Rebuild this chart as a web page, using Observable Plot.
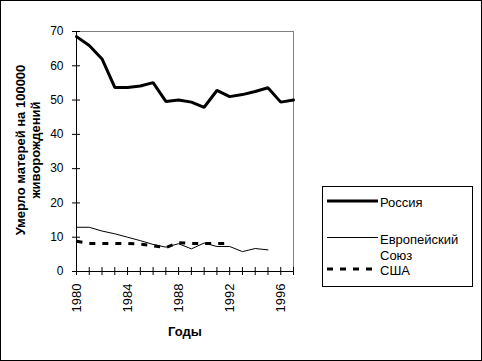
<!DOCTYPE html>
<html><head><meta charset="utf-8">
<script src="https://cdn.jsdelivr.net/npm/d3@7"></script>
<script src="https://cdn.jsdelivr.net/npm/@observablehq/plot@0.6"></script>
<style>
body{margin:0;background:#fff}
#wrap{position:relative;width:482px;height:361px;overflow:hidden;font-family:"Liberation Sans",Arial,sans-serif;background:#fff}
#wrap svg{position:absolute;left:0;top:0}
#frame{position:absolute;left:0;top:0;width:482px;height:361px;box-sizing:border-box;border:1px solid #000;pointer-events:none}
</style></head><body><div id="wrap"></div>
<script>
// Data
const years = d3.range(1980, 1998);
const russia = [68.5, 65.9, 62.0, 53.7, 53.7, 54.1, 55.1, 49.6, 50.0, 49.4, 47.9, 52.8, 51.0, 51.6, 52.5, 53.6, 49.4, 50.0];
const euYears = d3.range(1980, 1996);
const eu = [12.9, 12.9, 11.8, 11.0, 10.0, 9.0, 7.9, 7.1, 8.1, 6.6, 8.3, 7.3, 7.3, 5.8, 6.7, 6.3];
const usaYears = d3.range(1980, 1993);
const usa = [8.8, 8.2, 8.2, 8.2, 8.2, 8.0, 7.5, 7.0, 8.4, 8.2, 8.2, 8.2, 8.2];
const yTicks = [0, 10, 20, 30, 40, 50, 60, 70];
const xTickLabels = [1980, 1984, 1988, 1992, 1996];
const seriesNames = ["Россия", "Европейский Союз", "США"];
const xTitle = "Годы";
const yTitle = ["Умерло матерей на 100000", "живорождений"];

const rus = years.map((year, i) => ({year, v: russia[i]}));
const euD = euYears.map((year, i) => ({year, v: eu[i]}));
const usD = usaYears.map((year, i) => ({year, v: usa[i]}));

const font = '"Liberation Sans", Arial, sans-serif';

const chart = Plot.plot({
  width: 482, height: 361,
  marginLeft: 76, marginRight: 189, marginTop: 31, marginBottom: 90,
  style: {fontFamily: font, background: "transparent", overflow: "visible"},
  x: {domain: [1980, 1997], axis: null},
  y: {domain: [0, 70], axis: null},
  marks: [
    Plot.ruleY([70], {stroke: "#808080", strokeWidth: 1}),
    Plot.ruleX([1997], {stroke: "#808080", strokeWidth: 1}),
    Plot.line(euD, {x: "year", y: "v", stroke: "#000", strokeWidth: 1}),
    Plot.line(usD, {x: "year", y: "v", stroke: "#000", strokeWidth: 3, strokeDasharray: "6,7", strokeLinecap: "butt"}),
    Plot.line(rus, {x: "year", y: "v", stroke: "#000", strokeWidth: 3, strokeLinejoin: "miter"}),
    Plot.ruleX([1980], {y1: 0, y2: 70, stroke: "#000"}),
    Plot.ruleY([0], {x1: 1980, x2: 1997, stroke: "#000"}),
    Plot.ruleY(yTicks, {y: d => d, x1: 1980, x2: 1980, insetLeft: -4, insetRight: -4, stroke: "#000"}),
    Plot.ruleX(years, {x: d => d, y1: 0, y2: 0, insetTop: -4, insetBottom: -4, stroke: "#000"}),
    Plot.text(yTicks, {x: 1980, y: d => d, text: d => String(d), dx: -13, textAnchor: "end", fontSize: 12, fill: "#000"}),
    Plot.text(xTickLabels, {x: d => d, y: 0, text: d => String(d), rotate: -90, textAnchor: "end", dy: 12, fontSize: 13, fill: "#000"})
  ]
});

const wrap = document.getElementById("wrap");
wrap.appendChild(chart);

// overlay: titles and legend
const ov = d3.create("svg").attr("width", 482).attr("height", 361)
  .style("font-family", font);
ov.append("text").attr("x", 185).attr("y", 336).attr("text-anchor", "middle")
  .attr("font-weight", "bold").attr("font-size", 13).text(xTitle);
const yt = ov.append("text").attr("transform", "translate(25,150) rotate(-90)")
  .attr("text-anchor", "middle").attr("font-weight", "bold").attr("font-size", 13);
yt.append("tspan").attr("x", 0).attr("y", 0).text(yTitle[0]);
yt.append("tspan").attr("x", 0).attr("y", 15).text(yTitle[1]);

const lg = ov.append("g").attr("transform", "translate(322,186)");
lg.append("rect").attr("x", 0.5).attr("y", 0.5).attr("width", 150).attr("height", 100)
  .attr("fill", "#fff").attr("stroke", "#000");
lg.append("line").attr("x1", 5).attr("x2", 56).attr("y1", 15).attr("y2", 15).attr("stroke", "#000").attr("stroke-width", 3);
lg.append("text").attr("x", 58).attr("y", 21).attr("font-size", 13).text(seriesNames[0]);
lg.append("line").attr("x1", 5).attr("x2", 56).attr("y1", 51.5).attr("y2", 51.5).attr("stroke", "#000").attr("stroke-width", 1);
const eut = lg.append("text").attr("font-size", 13);
eut.append("tspan").attr("x", 58).attr("y", 58).text(seriesNames[1].split(" ")[0]);
eut.append("tspan").attr("x", 58).attr("y", 74).text(seriesNames[1].split(" ")[1]);
lg.append("line").attr("x1", 5).attr("x2", 56).attr("y1", 83).attr("y2", 83).attr("stroke", "#000").attr("stroke-width", 3).attr("stroke-dasharray", "6,7");
lg.append("text").attr("x", 58).attr("y", 89).attr("font-size", 13).text(seriesNames[2]);

wrap.appendChild(ov.node());
const fr = document.createElement("div"); fr.id = "frame"; wrap.appendChild(fr);
</script>
</body></html>
